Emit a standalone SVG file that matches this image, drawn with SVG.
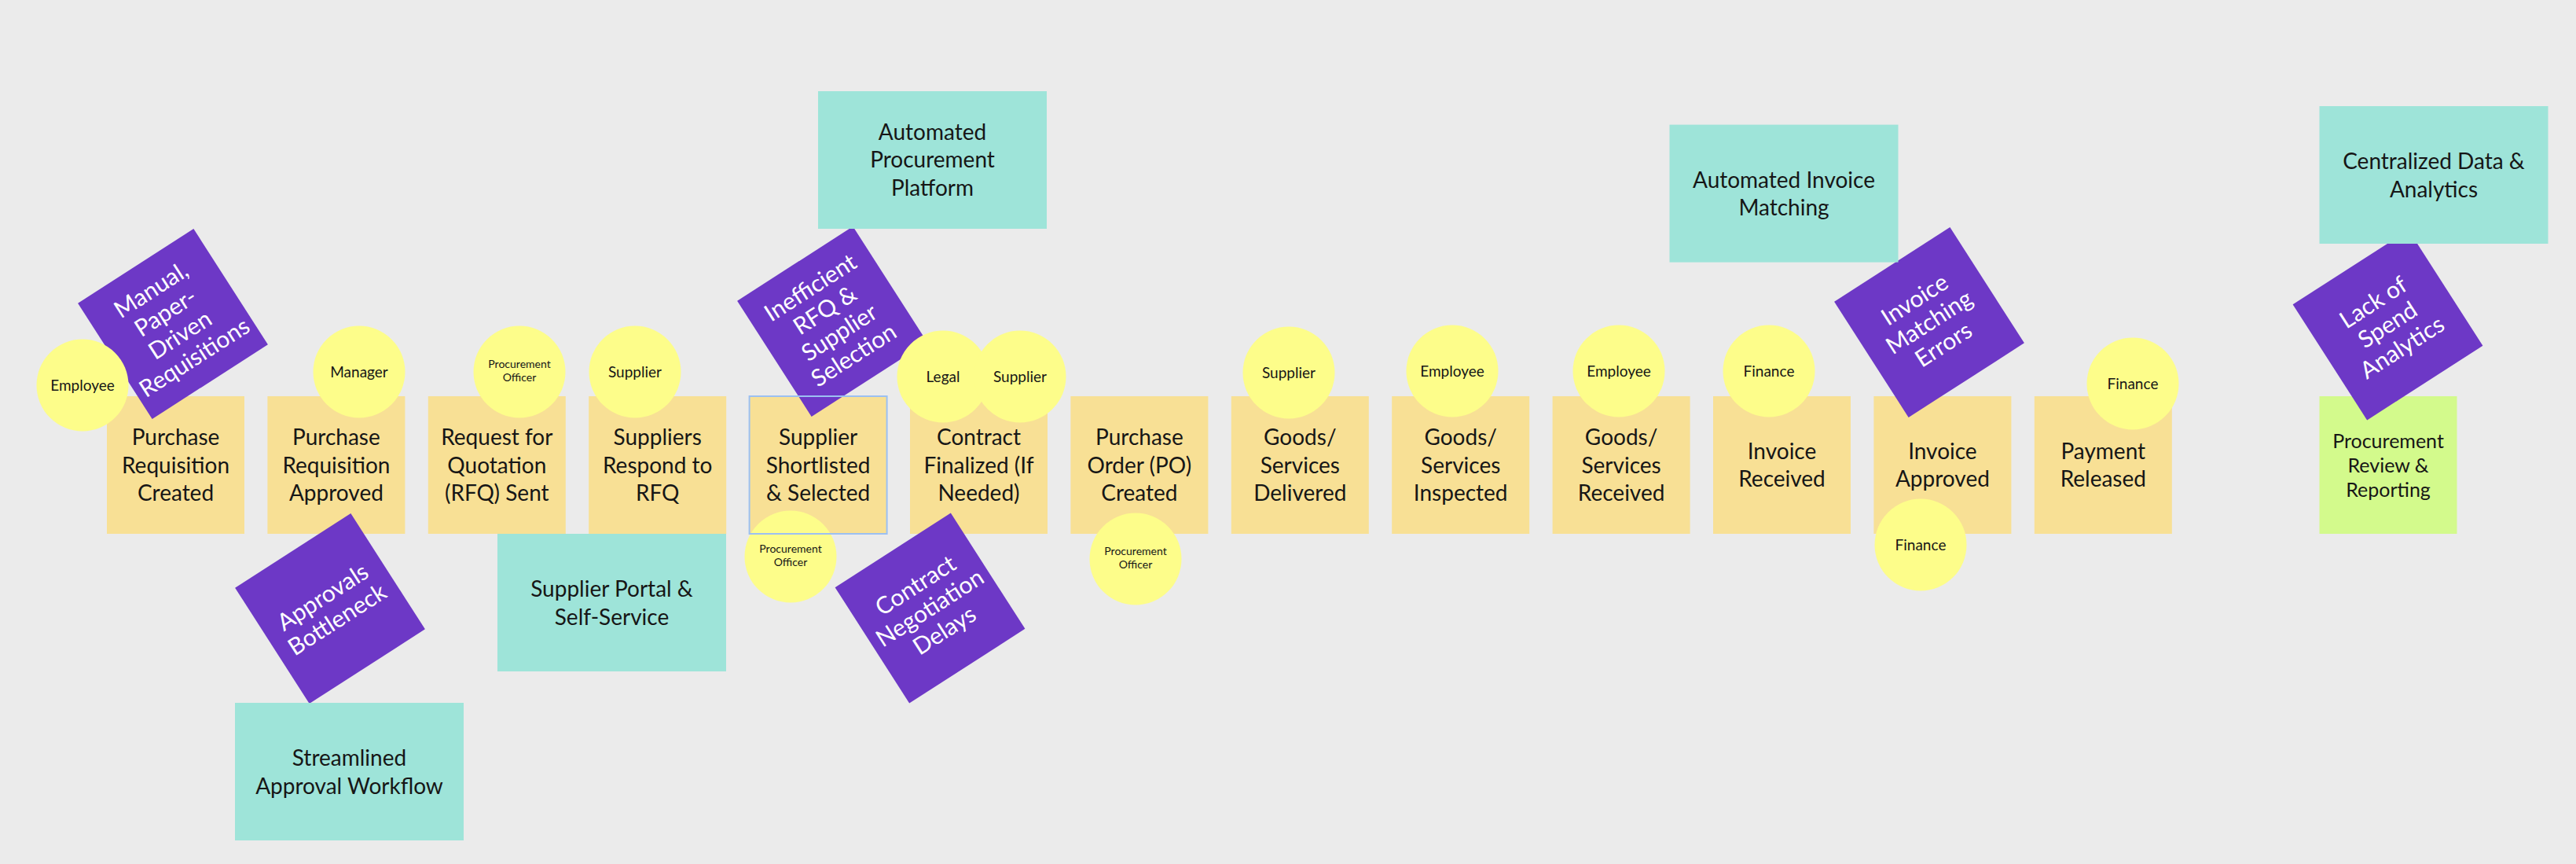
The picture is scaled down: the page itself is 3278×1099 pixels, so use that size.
<svg xmlns="http://www.w3.org/2000/svg" width="3278" height="1099" viewBox="0 0 3278 1099">
<style>
text{font-family:"Lato","Liberation Sans",sans-serif;fill:#161616;text-anchor:middle}
.card{fill:#F8E095}
.green{fill:#D3FA8C}
.teal{fill:#9EE4D9}
.purple{fill:#6D38C6}
.circ{fill:#FDFD8A}
.t28{font-size:28px}
.t25{font-size:25px}
.pt{font-size:30px;fill:#FFFFFF}
.c19{font-size:19px}
.c14{font-size:14px}
.sel{fill:none;stroke:#9CC0F2;stroke-width:2}
</style>
<rect x="0" y="0" width="3278" height="1099" fill="#EBEBEB"/>
<g id="connectors"/>
<g id="cards">
<g id="card-1"><rect class="card" x="136" y="504" width="175" height="175"/><text class="t28" x="223.5" y="566">Purchase</text><text class="t28" x="223.5" y="601.5">Requisition</text><text class="t28" x="223.5" y="637">Created</text></g>
<g id="card-2"><rect class="card" x="340.4" y="504" width="175" height="175"/><text class="t28" x="427.9" y="566">Purchase</text><text class="t28" x="427.9" y="601.5">Requisition</text><text class="t28" x="427.9" y="637">Approved</text></g>
<g id="card-3"><rect class="card" x="544.8" y="504" width="175" height="175"/><text class="t28" x="632.3" y="566">Request for</text><text class="t28" x="632.3" y="601.5">Quotation</text><text class="t28" x="632.3" y="637">(RFQ) Sent</text></g>
<g id="card-4"><rect class="card" x="749.2" y="504" width="175" height="175"/><text class="t28" x="836.7" y="566">Suppliers</text><text class="t28" x="836.7" y="601.5">Respond to</text><text class="t28" x="836.7" y="637">RFQ</text></g>
<g id="card-5"><rect class="card" x="953.6" y="504" width="175" height="175"/><text class="t28" x="1041.1" y="566">Supplier</text><text class="t28" x="1041.1" y="601.5">Shortlisted</text><text class="t28" x="1041.1" y="637">&amp; Selected</text></g>
<g id="card-6"><rect class="card" x="1158" y="504" width="175" height="175"/><text class="t28" x="1245.5" y="566">Contract</text><text class="t28" x="1245.5" y="601.5">Finalized (If</text><text class="t28" x="1245.5" y="637">Needed)</text></g>
<g id="card-7"><rect class="card" x="1362.4" y="504" width="175" height="175"/><text class="t28" x="1449.9" y="566">Purchase</text><text class="t28" x="1449.9" y="601.5">Order (PO)</text><text class="t28" x="1449.9" y="637">Created</text></g>
<g id="card-8"><rect class="card" x="1566.8" y="504" width="175" height="175"/><text class="t28" x="1654.3" y="566">Goods/</text><text class="t28" x="1654.3" y="601.5">Services</text><text class="t28" x="1654.3" y="637">Delivered</text></g>
<g id="card-9"><rect class="card" x="1771.2" y="504" width="175" height="175"/><text class="t28" x="1858.7" y="566">Goods/</text><text class="t28" x="1858.7" y="601.5">Services</text><text class="t28" x="1858.7" y="637">Inspected</text></g>
<g id="card-10"><rect class="card" x="1975.6" y="504" width="175" height="175"/><text class="t28" x="2063.1" y="566">Goods/</text><text class="t28" x="2063.1" y="601.5">Services</text><text class="t28" x="2063.1" y="637">Received</text></g>
<g id="card-11"><rect class="card" x="2180" y="504" width="175" height="175"/><text class="t28" x="2267.5" y="583.5">Invoice</text><text class="t28" x="2267.5" y="619">Received</text></g>
<g id="card-12"><rect class="card" x="2384.4" y="504" width="175" height="175"/><text class="t28" x="2471.9" y="583.5">Invoice</text><text class="t28" x="2471.9" y="619">Approved</text></g>
<g id="card-13"><rect class="card" x="2588.8" y="504" width="175" height="175"/><text class="t28" x="2676.3" y="583.5">Payment</text><text class="t28" x="2676.3" y="619">Released</text></g>
<g id="card-14"><rect class="green" x="2951.5" y="504" width="175" height="175"/><text class="t25" x="3039" y="569.5">Procurement</text><text class="t25" x="3039" y="601">Review &amp;</text><text class="t25" x="3039" y="631.5">Reporting</text></g>
</g>
<g id="pain-points">
<g id="pain-1" transform="translate(220 412) rotate(-32.7)"><rect class="purple" x="-87.5" y="-87.5" width="175" height="175"/><text class="pt" x="0" y="-41">Manual,</text><text class="pt" x="0" y="-7">Paper-</text><text class="pt" x="0" y="27">Driven</text><text class="pt" x="0" y="61">Requisitions</text></g>
<g id="pain-2" transform="translate(420 774) rotate(-32.7)"><rect class="purple" x="-87.5" y="-87.5" width="175" height="175"/><text class="pt" x="0" y="-7">Approvals</text><text class="pt" x="0" y="27">Bottleneck</text></g>
<g id="pain-3" transform="translate(1059 409) rotate(-32.7)"><rect class="purple" x="-87.5" y="-87.5" width="175" height="175"/><text class="pt" x="0" y="-41">Inefficient</text><text class="pt" x="0" y="-7">RFQ &amp;</text><text class="pt" x="0" y="27">Supplier</text><text class="pt" x="0" y="61">Selection</text></g>
<g id="pain-4" transform="translate(1183.5 773.5) rotate(-32.7)"><rect class="purple" x="-87.5" y="-87.5" width="175" height="175"/><text class="pt" x="0" y="-24">Contract</text><text class="pt" x="0" y="10">Negotiation</text><text class="pt" x="0" y="44">Delays</text></g>
<g id="pain-5" transform="translate(2455 410) rotate(-32.7)"><rect class="purple" x="-87.5" y="-87.5" width="175" height="175"/><text class="pt" x="0" y="-24">Invoice</text><text class="pt" x="0" y="10">Matching</text><text class="pt" x="0" y="44">Errors</text></g>
<g id="pain-6" transform="translate(3038.5 413.5) rotate(-32.7)"><rect class="purple" x="-87.5" y="-87.5" width="175" height="175"/><text class="pt" x="0" y="-24">Lack of</text><text class="pt" x="0" y="10">Spend</text><text class="pt" x="0" y="44">Analytics</text></g>
</g>
<g id="solutions">
<g id="sol-1"><rect class="teal" x="1041" y="116" width="291" height="175"/><text class="t28" x="1186.5" y="177.5">Automated</text><text class="t28" x="1186.5" y="213">Procurement</text><text class="t28" x="1186.5" y="248.5">Platform</text></g>
<g id="sol-2"><rect class="teal" x="633" y="679" width="291" height="175"/><text class="t28" x="778.5" y="759">Supplier Portal &amp;</text><text class="t28" x="778.5" y="794.5">Self-Service</text></g>
<g id="sol-3"><rect class="teal" x="299" y="894" width="291" height="175"/><text class="t28" x="444.5" y="974">Streamlined</text><text class="t28" x="444.5" y="1009.5">Approval Workflow</text></g>
<g id="sol-4"><rect class="teal" x="2124.5" y="158.6" width="291" height="175"/><text class="t28" x="2270" y="238.5">Automated Invoice</text><text class="t28" x="2270" y="274">Matching</text></g>
<g id="sol-5"><rect class="teal" x="2951.5" y="135" width="291" height="175"/><text class="t28" x="3097" y="215">Centralized Data &amp;</text><text class="t28" x="3097" y="250.5">Analytics</text></g>
</g>
<g id="roles">
<g id="role-1"><circle class="circ" cx="105" cy="490" r="58.5"/><text class="c19" x="105" y="496.5">Employee</text></g>
<g id="role-2"><circle class="circ" cx="457" cy="473" r="58.5"/><text class="c19" x="457" y="479.5">Manager</text></g>
<g id="role-3"><circle class="circ" cx="661" cy="473" r="58.5"/><text class="c14" x="661" y="468">Procurement</text><text class="c14" x="661" y="485">Officer</text></g>
<g id="role-4"><circle class="circ" cx="808" cy="473" r="58.5"/><text class="c19" x="808" y="479.5">Supplier</text></g>
<g id="role-5"><circle class="circ" cx="1006" cy="708" r="58.5"/><text class="c14" x="1006" y="703">Procurement</text><text class="c14" x="1006" y="720">Officer</text></g>
<g id="role-6"><circle class="circ" cx="1200" cy="479" r="58.5"/><text class="c19" x="1200" y="485.5">Legal</text></g>
<g id="role-7"><circle class="circ" cx="1298" cy="479" r="58.5"/><text class="c19" x="1298" y="485.5">Supplier</text></g>
<g id="role-8"><circle class="circ" cx="1445" cy="711" r="58.5"/><text class="c14" x="1445" y="706">Procurement</text><text class="c14" x="1445" y="723">Officer</text></g>
<g id="role-9"><circle class="circ" cx="1640" cy="474" r="58.5"/><text class="c19" x="1640" y="480.5">Supplier</text></g>
<g id="role-10"><circle class="circ" cx="1848" cy="472" r="58.5"/><text class="c19" x="1848" y="478.5">Employee</text></g>
<g id="role-11"><circle class="circ" cx="2060" cy="472" r="58.5"/><text class="c19" x="2060" y="478.5">Employee</text></g>
<g id="role-12"><circle class="circ" cx="2251" cy="472" r="58.5"/><text class="c19" x="2251" y="478.5">Finance</text></g>
<g id="role-13"><circle class="circ" cx="2444" cy="693" r="58.5"/><text class="c19" x="2444" y="699.5">Finance</text></g>
<g id="role-14"><circle class="circ" cx="2714" cy="488" r="58.5"/><text class="c19" x="2714" y="494.5">Finance</text></g>
</g>
<g id="selection"><rect class="sel" x="953.6" y="504" width="175" height="175"/></g>
</svg>
